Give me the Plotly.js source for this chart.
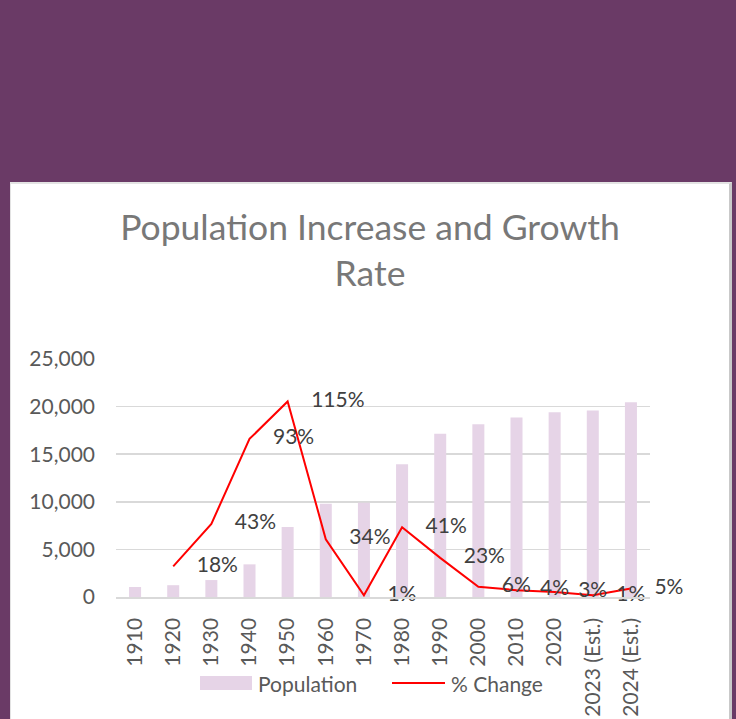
<!DOCTYPE html>
<html>
<head>
<meta charset="utf-8">
<script src="https://cdn.plot.ly/plotly-3.0.1.min.js"></script>
<style>
  html, body { margin:0; padding:0; background:#6A3A66; width:736px; height:719px; overflow:hidden; }
  #panel { position:absolute; left:10px; top:182px; width:718px; height:535px; background:#fff;
           border-left:1px solid #E3E3E3; border-top:2px solid #E3E3E3; border-right:3px solid #C9C9C9; }
  #chart { position:absolute; left:0; top:0; width:718px; height:535px; }
</style>
</head>
<body>
<div id="panel"><div id="chart"></div></div>
<script>
// ---- data ----
const categories = ['1910','1920','1930','1940','1950','1960','1970','1980','1990','2000','2010','2020','2023 (Est.)','2024 (Est.)'];
const population = [1050, 1240, 1780, 3430, 7350, 9800, 9900, 13950, 17150, 18150, 18850, 19400, 19600, 20450];
const pctChange  = [null, 0.18, 0.43, 0.93, 1.15, 0.34, 0.01, 0.41, 0.23, 0.06, 0.04, 0.03, 0.01, 0.05];
const yTickVals  = [0, 5000, 10000, 15000, 20000, 25000];
const yTickText  = ['0', '5,000', '10,000', '15,000', '20,000', '25,000'];
const legendNames = ['Population', '% Change'];

// ---- geometry ----
const W = 718, H = 535;
const M = {l: 105, r: 79, t: 175, b: 122};
const pw = W - M.l - M.r, ph = H - M.t - M.b;
const px = x => (x - M.l) / pw;          // div pixel -> paper x
const py = y => 1 - (y - M.t) / ph;      // div pixel -> paper y

const FONT = 'Lato, "Open Sans", sans-serif';
const barColor = '#E6D4E7';
const lineColor = '#FF0000';

const bars = {
  type: 'bar', x: categories, y: population, name: legendNames[0],
  marker: {color: barColor}, showlegend: false, hoverinfo: 'x+y'
};
const line = {
  type: 'scatter', mode: 'lines+markers+text', x: categories, y: pctChange, yaxis: 'y2',
  name: legendNames[1], showlegend: false,
  line: {color: lineColor, width: 2},
  marker: {size: 36, opacity: 0, color: lineColor},
  text: pctChange.map(v => v == null ? '' : Math.round(v * 100) + '%'),
  textposition: 'middle right',
  textfont: {family: FONT, size: 21, color: '#404040'},
  cliponaxis: false, connectgaps: false
};

// custom legend (Excel-style wide swatches)
const legY = 499; // div px
const shapes = [
  {type: 'rect', xref: 'paper', yref: 'paper', x0: px(189), x1: px(241), y0: py(legY - 7), y1: py(legY + 7),
   fillcolor: barColor, line: {width: 0}},
  {type: 'line', xref: 'paper', yref: 'paper', x0: px(381), x1: px(434), y0: py(legY), y1: py(legY),
   line: {color: lineColor, width: 2}}
];
const annotations = [
  {xref: 'paper', yref: 'paper', x: px(245), y: py(legY), xanchor: 'left', yanchor: 'middle',
   text: legendNames[0], showarrow: false, font: {family: FONT, size: 21, color: '#595959'}},
  {xref: 'paper', yref: 'paper', x: px(438), y: py(legY), xanchor: 'left', yanchor: 'middle',
   text: legendNames[1], showarrow: false, font: {family: FONT, size: 21, color: '#595959'}}
];

const layout = {
  width: W, height: H,
  margin: M,
  paper_bgcolor: '#FFFFFF', plot_bgcolor: '#FFFFFF',
  font: {family: FONT, color: '#595959', size: 21},
  title: {text: 'Population Increase and Growth<br>Rate', x: 0.5, xref: 'container', xanchor: 'center',
          y: 1 - 56 / H, yref: 'container', yanchor: 'top',
          font: {family: FONT, size: 35.5, color: '#787878'}},
  bargap: 0.685,
  showlegend: false,
  xaxis: {
    type: 'category', range: [-0.5, categories.length - 0.5], tickangle: -90,
    showgrid: false, zeroline: false,
    showline: true, linecolor: '#D9D9D9', linewidth: 1.5,
    ticks: '', ticklabelstandoff: 11,
    tickfont: {family: FONT, size: 21, color: '#595959'}, automargin: false
  },
  yaxis: {
    range: [0, 25000], tickvals: yTickVals, ticktext: yTickText,
    showgrid: true, gridcolor: '#D9D9D9', gridwidth: 1.5, zeroline: false,
    showline: false, ticks: '', ticklabelstandoff: 20,
    tickfont: {family: FONT, size: 21, color: '#595959'}, automargin: false
  },
  yaxis2: {
    overlaying: 'y', side: 'right', range: [0, 1.4], visible: false, showgrid: false
  },
  shapes: shapes,
  annotations: annotations
};

Plotly.newPlot('chart', [bars, line], layout, {displayModeBar: false, staticPlot: true});
</script>
</body>
</html>
